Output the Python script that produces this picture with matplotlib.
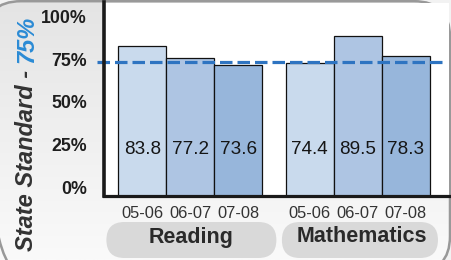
import numpy as np
import matplotlib
matplotlib.use("Agg")
import matplotlib.pyplot as plt
from matplotlib.patches import FancyBboxPatch
from matplotlib.colors import LinearSegmentedColormap
import matplotlib.transforms as mtrans

plt.rcParams['font.family'] = ['Liberation Sans', 'DejaVu Sans']
plt.rcParams['lines.scale_dashes'] = False

# ---- data ----
years = ['05-06', '06-07', '07-08']
subjects = ['Reading', 'Mathematics']
reading = [83.8, 77.2, 73.6]
mathematics = [74.4, 89.5, 78.3]
standard = 75
y_ticks = [0, 25, 50, 75, 100]
y_tick_labels = ['0%', '25%', '50%', '75%', '100%']
ylabel_main = 'State Standard - '
ylabel_value = '75%'

bar_colors = ['#c9daed', '#aec5e3', '#97b6db']

W, H = 452, 260
fig = plt.figure(figsize=(W / 100, H / 100), dpi=100)

# background axes in pixel coordinates
bg = fig.add_axes([0, 0, 1, 1], zorder=0)
bg.set_xlim(0, W)
bg.set_ylim(0, H)
bg.axis('off')
fig.patch.set_facecolor('#f2f2f2')

cmap = LinearSegmentedColormap.from_list('g', ['#fafafa', '#e4e4e4'])
grad = np.linspace(0, 1, 256).reshape(-1, 1)
im = bg.imshow(grad, extent=(0, W, 0, H), origin='lower', cmap=cmap,
               aspect='auto', zorder=0)
frame = FancyBboxPatch((-15, -12), 465, H - 1.2 + 12, boxstyle='round,pad=0,rounding_size=36',
                       fc='none', ec='#999999', lw=1.8, zorder=2)
bg.add_patch(frame)
im.set_clip_path(frame)

# main axes
ax = fig.add_axes([104 / W, (H - 196) / H, (449 - 104) / W, (196 - 2.5) / H], zorder=1)
ax.set_facecolor('white')

gap = 0.48
x_read = np.arange(len(years))
x_math = np.arange(len(years)) + len(years) + gap
ax.bar(x_read, reading, width=1.0, color=bar_colors, edgecolor='#111111', lw=0.9, zorder=2)
ax.bar(x_math, mathematics, width=1.0, color=bar_colors, edgecolor='#111111', lw=0.9, zorder=2)

ax.set_xlim(-0.8, 6.385)
ax.set_ylim(0, 108.4)

for xs, vals in ((x_read, reading), (x_math, mathematics)):
    for x, v in zip(xs, vals):
        ax.text(x, 26.3, f'{v:.1f}', ha='center', va='center', fontsize=13.6,
                color='#151515', zorder=4)

ax.plot([-0.95, 6.28], [standard, standard], color='#2e74c1', lw=2.3,
        dashes=(9, 3.6), clip_on=False, zorder=5, solid_capstyle='butt',
        dash_capstyle='butt')

for s in ('top', 'right'):
    ax.spines[s].set_visible(False)
ax.spines['left'].set_linewidth(2.6)
ax.spines['left'].set_color('#1a1a1a')
ax.spines['bottom'].set_linewidth(2.3)
ax.spines['bottom'].set_color('#1a1a1a')
ax.spines['left'].set_zorder(6)
ax.spines['bottom'].set_zorder(6)

ax.set_yticks([])
ylab_tr = mtrans.blended_transform_factory(ax.transAxes, ax.transData) + \
    mtrans.ScaledTranslation(-17 / 100, 0, fig.dpi_scale_trans)
for v, lab in zip(y_ticks, y_tick_labels):
    # labels in the original sit on a slightly compressed spacing
    ax.text(0, v * 0.955 + 3.9, lab, transform=ylab_tr, ha='right', va='center',
            fontsize=12.8, fontweight='bold', color='#1e1e1e')

ax.set_xticks(np.concatenate([x_read, x_math]))
ax.set_xticklabels(years * 2, fontsize=11.8, color='#333333')
ax.tick_params(axis='x', length=0, pad=7)

# group pills and labels
fig.canvas.draw()
pill_specs = [(x_read.mean() + 0.02, 3.54, subjects[0], 0),
              (x_math.mean() + 0.05, 3.25, subjects[1], 4)]
for cx, wd, name, tx in pill_specs:
    px0 = ax.transData.transform((cx - wd / 2, 0))[0]
    px1 = ax.transData.transform((cx + wd / 2, 0))[0]
    pill = FancyBboxPatch((px0, H - 258), px1 - px0, 36,
                          boxstyle='round,pad=0,rounding_size=18',
                          fc='#d9d9d9', ec='none', zorder=3)
    bg.add_patch(pill)
    bg.text((px0 + px1) / 2 + tx * 0.5, H - 237, name, ha='center', va='center',
            fontsize=15.5, fontweight='bold', color='#2a2a2a', zorder=4)

# y-axis title with two colours
t1 = bg.text(27, H - 251, ylabel_main, rotation=90, ha='center', va='bottom',
             fontsize=17, fontweight='bold', fontstyle='italic', color='#333333', zorder=4)
bg.annotate(ylabel_value, xy=(0.5, 1.0), xycoords=t1, rotation=90, ha='center',
            va='bottom', fontsize=17, fontweight='bold', fontstyle='italic',
            color='#2b8bd5', zorder=4)

fig.savefig('out.png', dpi=100, facecolor=fig.get_facecolor())
